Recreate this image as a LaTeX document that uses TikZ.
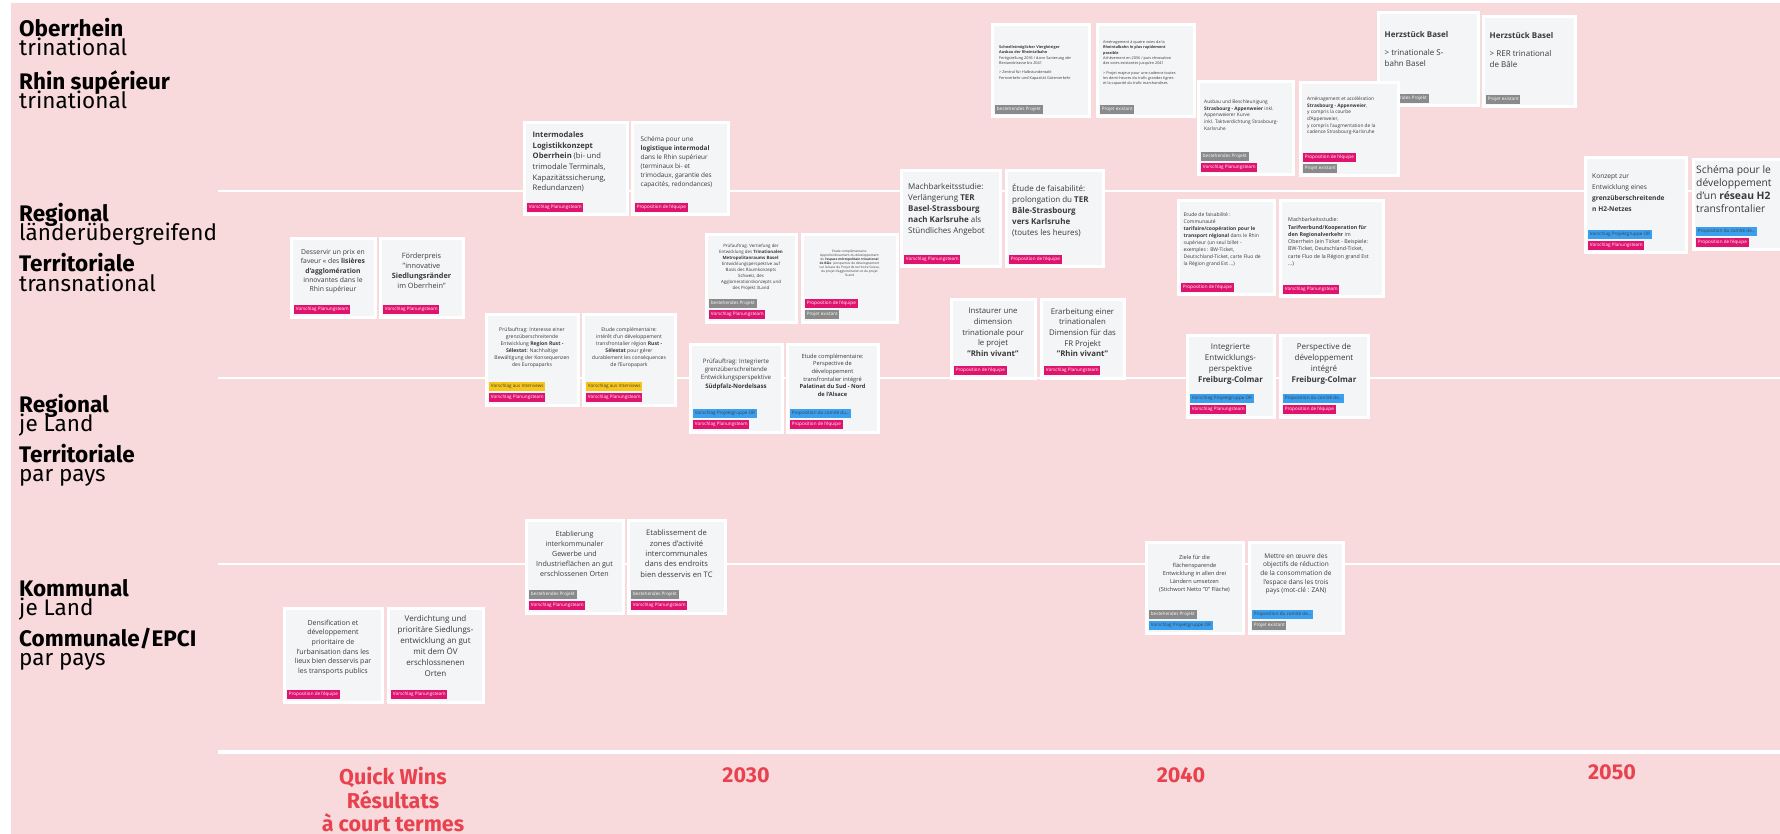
\documentclass[tikz,border=0pt]{standalone}
\usepackage{fontspec}
\setmainfont{Open Sans}
\newfontfamily\levelfont{Fira Sans}
\usetikzlibrary{positioning,calc}

\definecolor{bgpink}{HTML}{F8D9DC}
\definecolor{cardbg}{HTML}{F4F5F7}
\definecolor{cardtxt}{HTML}{3A3A3A}
\definecolor{tagpink}{HTML}{E0136E}
\definecolor{taggrey}{HTML}{8A8A8A}
\definecolor{tagblue}{HTML}{3A9FEF}
\definecolor{tagyellow}{HTML}{F7C61A}
\colorlet{inkpink}{white}
\colorlet{inkgrey}{white}
\colorlet{inkblue}{black!75}
\colorlet{inkyellow}{black!75}
\definecolor{winsred}{HTML}{E8424F}

\begin{document}
\begin{tikzpicture}[x=1pt,y=-1pt,
  card/.style={fill=cardbg, draw=white, line width=3pt, inner sep=0pt, anchor=north west},
  ctext/.style={text=cardtxt, inner sep=0pt, align=center, anchor=north},
  ltext/.style={text=cardtxt, inner sep=0pt, align=left, anchor=north west},
  tag/.style={inner xsep=1.7pt, inner ysep=0pt, minimum height=8.5pt, anchor=south west,
    font=\fontsize{4.6}{5}\selectfont},
  levelhead/.style={anchor=base west, inner sep=0pt, font=\levelfont\bfseries\fontsize{22.5}{22}\selectfont},
  levelsub/.style={anchor=base west, inner sep=0pt, font=\levelfont\fontsize{22.5}{22}\selectfont},
  year/.style={text=winsred, inner sep=0pt, align=center, font=\levelfont\bfseries\fontsize{21.5}{23.5}\selectfont}]

\useasboundingbox (0,0) rectangle (1780,834);
\fill[white] (0,0) rectangle (1780,834);
\fill[bgpink] (11,3) rectangle (1780,834);

% levels
\foreach \y in {191,378,564}
  \draw[white, line width=2pt] (218,\y) -- (1780,\y);
\draw[white, line width=3.5pt] (218,752) -- (1780,752);

\foreach \y/\a/\b [count=\i] in {37/Oberrhein/trinational, 90/Rhin supérieur/trinational,
    222/Regional/länderübergreifend, 272/Territoriale/transnational,
    412/Regional/je Land, 462/Territoriale/par pays,
    596/Kommunal/je Land, 646/Communale\slash EPCI/par pays} {
  \node[levelhead] (lvh\i) at (19,\y) {\a};
  \node[levelsub] (lvs\i) at (19,\y+19) {\b};
}

% time axis
\node[year, anchor=north] (wins) at (393,767) {Quick Wins\\Résultats\\à court termes};
\node[year] (y2030) at (746,775) {2030};
\node[year] (y2040) at (1181,775) {2040};
\node[year] (y2050) at (1612,772) {2050};

% Herzstueck cards (under the next card)
\node[card, minimum width=100, minimum height=93] (hzd) at (1376.5,11.5) {};
\node[card, minimum width=92, minimum height=90] (hzf) at (1481.5,15.5) {};
\node[ltext, font=\fontsize{8}{11}\selectfont] (hzd-t) at ([xshift=8pt,yshift=-20pt]hzd.north west)
  {\textbf{Herzstück Basel}\\[7pt]> trinationale S-\\bahn Basel};
\node[ltext, font=\fontsize{8}{11}\selectfont] (hzf-t) at ([xshift=8pt,yshift=-17pt]hzf.north west)
  {\textbf{Herzstück Basel}\\[7pt]> RER trinational\\de Bâle};
\node[tag, fill=taggrey, text=inkgrey] (hzd-tag0) at ([xshift=4.5pt,yshift=4.5pt]hzd.south west) {bestehendes Projekt};
\node[tag, fill=taggrey, text=inkgrey] (hzf-tag0) at ([xshift=4.5pt,yshift=4.5pt]hzf.south west) {Projet existant};

% cards
\foreach \n/\xa/\ya/\xb/\yb in {dsv/288/236/375/317, fpr/377/236/463/317,
    ilk/521/120/627/215, slm/629/120/728/215,
    pru/483/311/578/405, eru/580/311/675/405,
    ptm/703/232/796/322, ebl/799/232/897/322,
    psn/687/341/782/432, epn/784/341/878/432,
    mter/898/168/1000/267, eter/1003/168/1103/267,
    irv/948/297/1035/378, erv/1038/297/1124/378,
    srb/989/22/1089/117, arb/1094/22/1194/117,
    asa/1195/79/1293/175, aaa/1297/80/1398/176,
    etc/1175/198/1274/295, mtv/1277/198/1383/297,
    ifc/1184/332/1274/417, pfc/1277/332/1368/417,
    kh2/1582/155/1686/253, sh2/1690/157/1790/250,
    eig/523/517/623/613, ezi/625/517/725/613,
    dur/281/605/382/702, vsi/385/605/483/702,
    zfl/1143/539/1243/633, mcz/1246/539/1343/633}
  \node[card, minimum width={\xb-\xa-3}, minimum height={\yb-\ya-3}] (\n) at ({\xa+1.5},{\ya+1.5}) {};

% card texts
\node[ctext, font=\fontsize{6.8}{9.3}\selectfont] (dsv-t) at ([yshift=-12pt]dsv.north)
  {Desservir un prix en\\faveur « des \textbf{lisières}\\\textbf{d'agglomération}\\innovantes dans le\\Rhin supérieur};
\node[ctext, font=\fontsize{7.3}{10}\selectfont] (fpr-t) at ([yshift=-15pt]fpr.north)
  {Förderpreis\\"innovative\\\textbf{Siedlungsränder}\\im Oberrhein"};
\node[ltext, font=\fontsize{7.6}{10.7}\selectfont] (ilk-t) at ([xshift=10pt,yshift=-10pt]ilk.north west)
  {\textbf{Intermodales}\\\textbf{Logistikkonzept}\\\textbf{Oberrhein} (bi- und\\trimodale Terminals,\\Kapazitätssicherung,\\Redundanzen)};
\node[ltext, font=\fontsize{6.4}{9}\selectfont] (slm-t) at ([xshift=10pt,yshift=-15pt]slm.north west)
  {Schéma pour une\\\textbf{logistique intermodal}\\dans le Rhin supérieur\\(terminaux bi- et\\trimodaux, garantie des\\capacités, redondances)};
\node[ctext, font=\fontsize{5.1}{7}\selectfont] (pru-t) at ([yshift=-15pt]pru.north)
  {Prüfauftrag: Interesse einer\\grenzüberschreitende\\Entwicklung \textbf{Region Rust -}\\\textbf{Sélestat}: Nachhaltige\\Bewältigung der Konsequenzen\\des Europaparks};
\node[ctext, font=\fontsize{5.1}{7}\selectfont] (eru-t) at ([yshift=-15pt]eru.north)
  {Etude complémentaire:\\intérêt d'un développement\\transfrontalier région \textbf{Rust -}\\\textbf{Sélestat} pour gérer\\durablement les conséquences\\de l'Europapark};
\node[ctext, font=\fontsize{4.4}{6}\selectfont] (ptm-t) at ([yshift=-10pt]ptm.north)
  {Prüfauftrag: Vertiefung der\\Entwicklung des \textbf{Trinationalen}\\\textbf{Metropolitanraums Basel}:\\Entwicklungsperspektive auf\\Basis des Raumkonzepts\\Schweiz, des\\Agglomerationskonzepts und\\des Projekt 3Land};
\node[ctext, font=\fontsize{3.2}{4.1}\selectfont] (ebl-t) at ([yshift=-16pt]ebl.north)
  {Etude complémentaire:\\Approfondissement du développement\\de \textbf{l'espace métropolitain trinational}\\\textbf{de Bâle}: perspective de développement\\sur la base du Projet de territoire Suisse,\\du projet d'agglomération et du projet\\3Land};
\node[ctext, font=\fontsize{6.1}{8.3}\selectfont] (psn-t) at ([yshift=-16pt]psn.north)
  {Prüfauftrag: Integrierte\\grenzüberschreitende\\Entwicklungsperspektive\\\textbf{Südpfalz-Nordelsass}};
\node[ctext, font=\fontsize{5.7}{7.7}\selectfont] (epn-t) at ([yshift=-11pt]epn.north)
  {Etude complémentaire:\\Perspective de\\développement\\transfrontalier intégré\\\textbf{Palatinat du Sud - Nord}\\\textbf{de l'Alsace}};
\node[ltext, font=\fontsize{8}{11}\selectfont] (mter-t) at ([xshift=8.5pt,yshift=-14pt]mter.north west)
  {Machbarkeitsstudie:\\Verlängerung \textbf{TER}\\\textbf{Basel-Strassbourg}\\\textbf{nach Karlsruhe} als\\Stündliches Angebot};
\node[ltext, font=\fontsize{8}{11}\selectfont] (eter-t) at ([xshift=7.5pt,yshift=-14pt]eter.north west)
  {Étude de faisabilité:\\prolongation du \textbf{TER}\\\textbf{Bâle-Strasbourg}\\\textbf{vers Karlsruhe}\\(toutes les heures)};
\node[ctext, font=\fontsize{7.8}{10.7}\selectfont] (irv-t) at ([yshift=-9.5pt]irv.north)
  {Instaurer une\\dimension\\trinationale pour\\le projet\\\textbf{"Rhin vivant"}};
\node[ctext, font=\fontsize{7.8}{10.7}\selectfont] (erv-t) at ([yshift=-9.5pt]erv.north)
  {Erarbeitung einer\\trinationalen\\Dimension für das\\FR Projekt\\\textbf{"Rhin vivant"}};
\node[ltext, font=\fontsize{3.8}{5.3}\selectfont] (srb-t) at ([xshift=8.5pt,yshift=-22pt]srb.north west)
  {\textbf{Schnellstmöglicher Viergleisiger}\\\textbf{Ausbau der Rheintalbahn}\\Fertigstellung 2036 / dann Sanierung der\\Bestandstrasse bis 2041\\[4pt]> Zentral für Halbstundentakt\\Fernverkehr und Kapazität Güterverkehr};
\node[ltext, font=\fontsize{3.8}{5.3}\selectfont] (arb-t) at ([xshift=7.5pt,yshift=-17pt]arb.north west)
  {Aménagement à quatre voies de la\\\textbf{Rheintalbahn le plus rapidement}\\\textbf{possible}\\Achèvement en 2036 / puis rénovation\\des voies existantes jusqu'en 2041\\[4pt]> Projet majeur pour une cadence toutes\\les demi-heures du trafic grandes lignes\\et la capacité du trafic marchandises};
\node[ltext, font=\fontsize{4.8}{6.7}\selectfont] (asa-t) at ([xshift=7.5pt,yshift=-19pt]asa.north west)
  {Ausbau und Beschleunigung\\\textbf{Strasbourg - Appenweier} inkl.\\Appenweierer Kurve\\inkl. Taktverdichtung Strasbourg-\\Karlsruhe};
\node[ltext, font=\fontsize{4.8}{6.7}\selectfont] (aaa-t) at ([xshift=8.5pt,yshift=-15pt]aaa.north west)
  {Aménagement et accélération\\\textbf{Strasbourg - Appenweier},\\y compris la courbe\\d'Appenweier,\\y compris l'augmentation de la\\cadence Strasbourg-Karlsruhe};
\node[ltext, font=\fontsize{5}{7}\selectfont] (etc-t) at ([xshift=7pt,yshift=-13pt]etc.north west)
  {Etude de faisabilité :\\Communauté\\\textbf{tarifaire/coopération pour le}\\\textbf{transport régional} dans le Rhin\\supérieur (un seul billet -\\exemples : BW-Ticket,\\Deutschland-Ticket, carte Fluo de\\la Région grand Est \ldots)};
\node[ltext, font=\fontsize{5.3}{7.3}\selectfont] (mtv-t) at ([xshift=9.5pt,yshift=-18pt]mtv.north west)
  {Machbarkeitsstudie:\\\textbf{Tarifverbund/Kooperation für}\\\textbf{den Regionalverkehr} im\\Oberrhein (ein Ticket - Beispiele:\\BW-Ticket, Deutschland-Ticket,\\carte Fluo de la Région grand Est\\\ldots)};
\node[ctext, font=\fontsize{8}{11}\selectfont] (ifc-t) at ([yshift=-9.5pt]ifc.north)
  {Integrierte\\Entwicklungs-\\perspektive\\\textbf{Freiburg-Colmar}};
\node[ctext, font=\fontsize{8}{11}\selectfont] (pfc-t) at ([yshift=-9.5pt]pfc.north)
  {Perspective de\\développement\\intégré\\\textbf{Freiburg-Colmar}};
\node[ltext, font=\fontsize{6.6}{11}\selectfont] (kh2-t) at ([xshift=8.5pt,yshift=-17pt]kh2.north west)
  {Konzept zur\\Entwicklung eines\\\textbf{grenzüberschreitende}\\\textbf{n H2-Netzes}};
\node[ltext, font=\fontsize{10.3}{13}\selectfont] (sh2-t) at ([xshift=4.5pt,yshift=-7pt]sh2.north west)
  {Schéma pour le\\développement\\d'un \textbf{réseau H2}\\transfrontalier};
\node[ctext, font=\fontsize{7.1}{10}\selectfont] (eig-t) at ([yshift=-12pt]eig.north)
  {Etablierung\\interkommunaler\\Gewerbe und\\Industrieflächen an gut\\erschlossenen Orten};
\node[ctext, font=\fontsize{7.6}{10.3}\selectfont] (ezi-t) at ([yshift=-11.5pt]ezi.north)
  {Etablissement de\\zones d'activité\\intercommunales\\dans des endroits\\bien desservis en TC};
\node[ctext, font=\fontsize{7}{9.7}\selectfont] (dur-t) at ([yshift=-13pt]dur.north)
  {Densification et\\développement\\prioritaire de\\l'urbanisation dans les\\lieux bien desservis par\\les transports publics};
\node[ctext, font=\fontsize{8}{11}\selectfont] (vsi-t) at ([yshift=-8.5pt]vsi.north)
  {Verdichtung und\\prioritäre Siedlungs-\\entwicklung an gut\\mit dem ÖV\\erschlossnenen\\Orten};
\node[ctext, font=\fontsize{5.6}{8}\selectfont] (zfl-t) at ([yshift=-15pt]zfl.north)
  {Ziele für die\\flächensparende\\Entwicklung in allen drei\\Ländern umsetzen\\(Stichwort Netto "0" Fläche)};
\node[ctext, font=\fontsize{6.5}{8.7}\selectfont] (mcz-t) at ([yshift=-12.5pt]mcz.north)
  {Mettre en œuvre des\\objectifs de réduction\\de la consommation de\\l'espace dans les trois\\pays (mot-clé : ZAN)};

% labels of the proposals
\foreach \c/\f/\l/\t in {dsv/pink/0/Vorschlag Planungsteam, fpr/pink/0/Vorschlag Planungsteam,
    ilk/pink/0/Vorschlag Planungsteam, slm/pink/0/Proposition de l'équipe,
    pru/yellow/1/Vorschlag aus Interviews, pru/pink/0/Vorschlag Planungsteam,
    eru/yellow/1/Vorschlag aus Interviews, eru/pink/0/Vorschlag Planungsteam,
    ptm/grey/1/bestehendes Projekt, ptm/pink/0/Vorschlag Planungsteam,
    ebl/pink/1/Proposition de l'équipe, ebl/grey/0/Projet existant,
    psn/blue/1/Vorschlag Projektgruppe OR, psn/pink/0/Vorschlag Planungsteam,
    epn/blue/1/Proposition du comité du\ldots, epn/pink/0/Proposition de l'équipe,
    mter/pink/0/Vorschlag Planungsteam, eter/pink/0/Proposition de l'équipe,
    irv/pink/0/Proposition de l'équipe, erv/pink/0/Vorschlag Planungsteam,
    srb/grey/0/bestehendes Projekt, arb/grey/0/Projet existant,
    asa/grey/1/bestehendes Projekt, asa/pink/0/Vorschlag Planungsteam,
    aaa/pink/1/Proposition de l'équipe, aaa/grey/0/Projet existant,
    etc/pink/0/Proposition de l'équipe, mtv/pink/0/Vorschlag Planungsteam,
    ifc/blue/1/Vorschlag Projektgruppe OR, ifc/pink/0/Vorschlag Planungsteam,
    pfc/blue/1/Proposition du comité de\ldots, pfc/pink/0/Proposition de l'équipe,
    kh2/blue/1/Vorschlag Projektgruppe OR, kh2/pink/0/Vorschlag Planungsteam,
    sh2/blue/1/Proposition du comité de\ldots, sh2/pink/0/Proposition de l'équipe,
    eig/grey/1/bestehendes Projekt, eig/pink/0/Vorschlag Planungsteam,
    ezi/grey/1/bestehendes Projekt, ezi/pink/0/Vorschlag Planungsteam,
    dur/pink/0/Proposition de l'équipe, vsi/pink/0/Vorschlag Planungsteam,
    zfl/grey/1/bestehendes Projekt, zfl/blue/0/Vorschlag Projektgruppe OR,
    mcz/blue/1/Proposition du comité de\ldots, mcz/grey/0/Projet existant}
  \node[tag, fill=tag\f, text=ink\f] (\c-tag\l) at ([xshift=4.5pt,yshift={4.5pt+\l*11pt}]\c.south west) {\t};

\end{tikzpicture}
\end{document}
